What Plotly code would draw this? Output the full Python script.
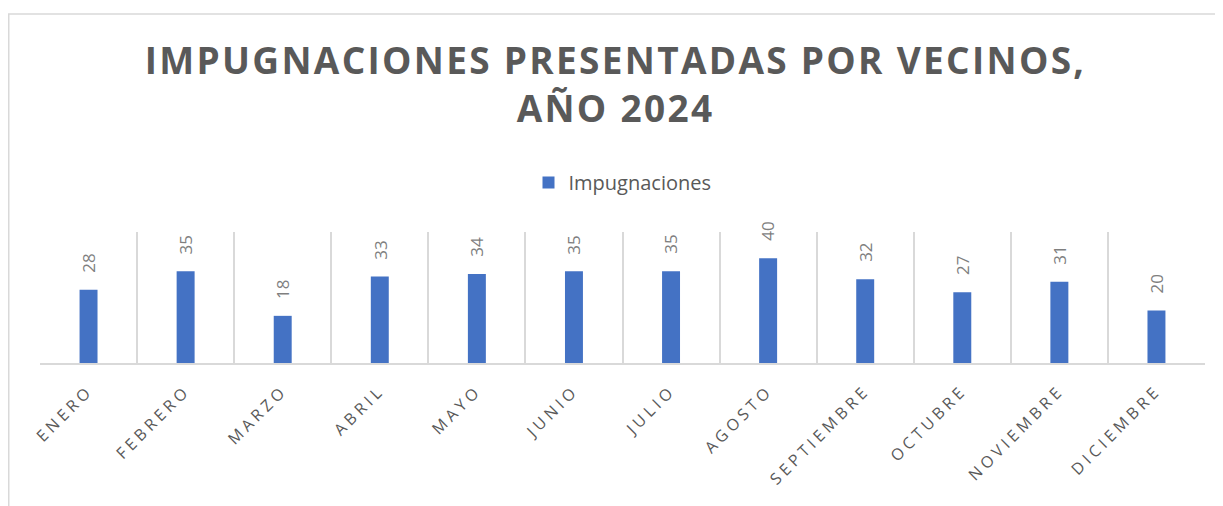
import plotly.graph_objects as go

months = ["ENERO", "FEBRERO", "MARZO", "ABRIL", "MAYO", "JUNIO", "JULIO",
          "AGOSTO", "SEPTIEMBRE", "OCTUBRE", "NOVIEMBRE", "DICIEMBRE"]
impugnaciones = [28, 35, 18, 33, 34, 35, 35, 40, 32, 27, 31, 20]
series_name = "Impugnaciones"
title_text = "IMPUGNACIONES PRESENTADAS POR VECINOS,<br>AÑO 2024"

# page body has an 8px margin, so the figure origin sits at (8, 8)
W, H = 1215, 498
L, R, T, B = 32, 18, 224, 143
pw, ph = W - L - R, H - T - B

fig = go.Figure()
fig.add_trace(go.Bar(
    x=months, y=impugnaciones, name=series_name,
    marker=dict(color="#4472C4", line=dict(width=0)),
    width=0.185,
))

for m, v in zip(months, impugnaciones):
    fig.add_annotation(x=m, y=v, text=str(v), showarrow=False, textangle=-90,
                       yanchor="bottom", xanchor="center", yshift=15,
                       font=dict(family="Open Sans", size=17, color="#7f7f7f"))

fig.update_layout(
    width=W, height=H,
    margin=dict(l=L, r=R, t=T, b=B),
    paper_bgcolor="white", plot_bgcolor="white",
    title=dict(text=title_text, x=0.5, xanchor="center",
               y=(H - 66) / H, yanchor="top",
               font=dict(family="Open Sans", size=37, color="#595959", weight="bold")),
    showlegend=True,
    legend=dict(orientation="h", x=0.5, xanchor="center", y=(H - 155) / H, yref="container",
                yanchor="top", font=dict(family="Open Sans", size=20, color="#595959"),
                itemwidth=30),
    bargap=0.8,
    xaxis=dict(tickson="boundaries", showgrid=True, gridcolor="#d9d9d9", gridwidth=1.5,
               showline=True, linecolor="#d9d9d9", linewidth=1.8,
               ticks="", tickangle=-45, ticklabelstandoff=10,
               tickfont=dict(family="Open Sans", size=16, color="#595959")),
    yaxis=dict(range=[0, 50], visible=False, showgrid=False),
)

# chart border (top and left edges visible)
fig.add_shape(type="rect", xref="paper", yref="paper",
              x0=(0.75 - L) / pw, x1=(W + 5 - L) / pw,
              y0=-(B + 10) / ph, y1=(H - B - 6) / ph,
              line=dict(color="#d9d9d9", width=1.5), layer="below")

post = """
var gd = document.getElementById('{plot_id}');
function spacing() {
  gd.querySelectorAll('.xtick text').forEach(function(e){ e.style.letterSpacing = '4px'; });
  gd.querySelectorAll('.gtitle').forEach(function(e){ e.style.letterSpacing = '2.3px'; });
}
spacing();
setTimeout(spacing, 0);
if (gd.on) { gd.on('plotly_afterplot', spacing); }
"""

fig.write_html("out.html", post_script=post)
